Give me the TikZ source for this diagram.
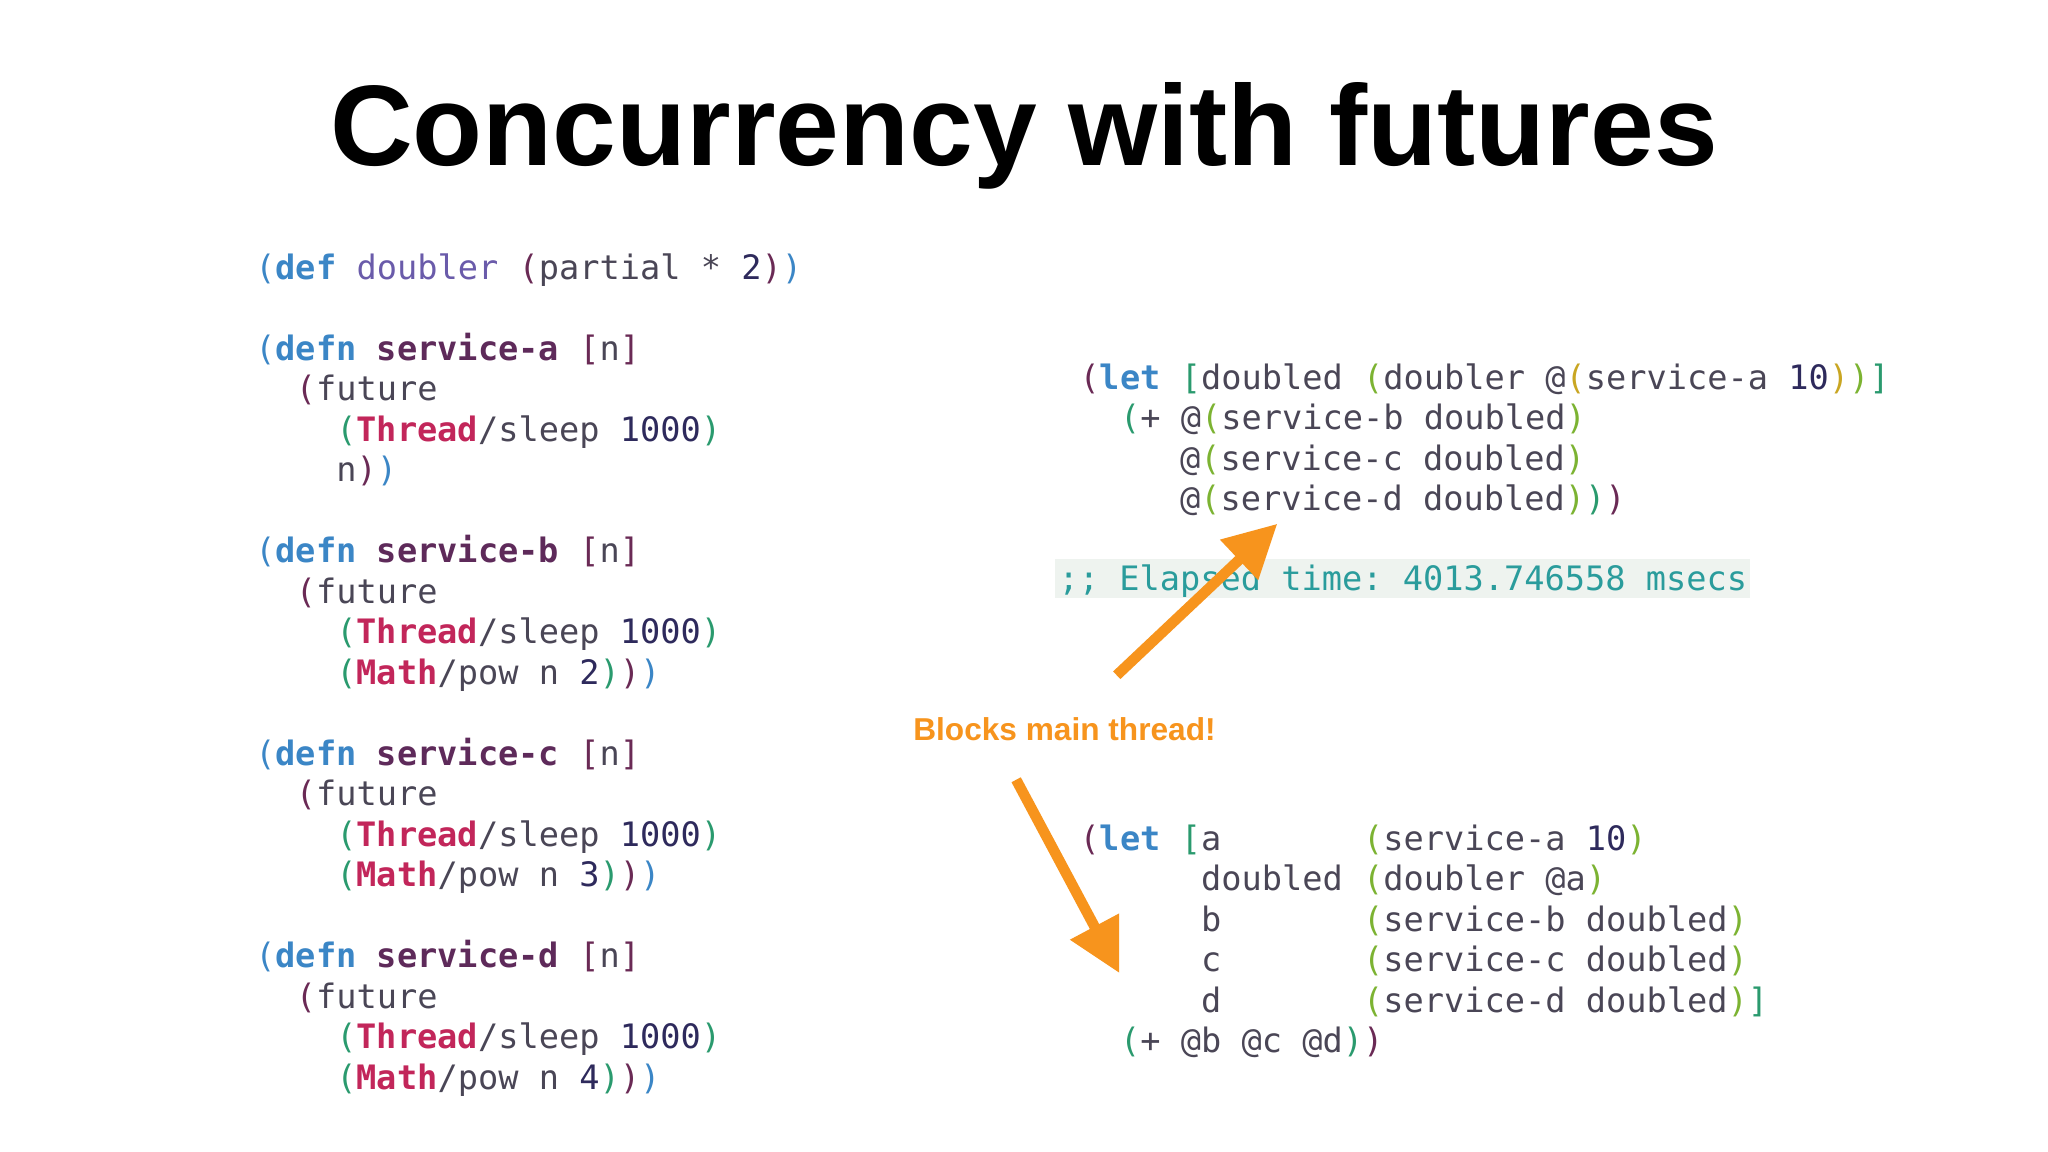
\documentclass[tikz,border=0pt]{standalone}
\usepackage{fontspec}
\setmainfont{Liberation Sans}
\setmonofont{DejaVu Sans Mono}
\usetikzlibrary{arrows.meta}
\definecolor{pb}{HTML}{3B86C6}
\definecolor{pp}{HTML}{6A2A55}
\definecolor{pg}{HTML}{2A9A6E}
\definecolor{pl}{HTML}{7CB332}
\definecolor{py}{HTML}{C9A622}
\definecolor{tx}{HTML}{4A4656}
\definecolor{nm}{HTML}{2E2A5C}
\definecolor{db}{HTML}{6A5BAA}
\definecolor{fnc}{HTML}{5E2A5A}
\definecolor{cls}{HTML}{C2265A}
\definecolor{cm}{HTML}{2A9C9C}
\definecolor{cmbg}{HTML}{EEF3EF}
\definecolor{org}{HTML}{F7941D}
\newcommand\C[2]{{\color{#1}#2}}
\newcommand\K[1]{{\bfseries\color{pb}#1}}
\newcommand\F[1]{{\bfseries\color{fnc}#1}}
\newcommand\J[1]{{\bfseries\color{cls}#1}}
\newcommand\N[1]{{\color{nm}#1}}
\begin{document}
\begin{tikzpicture}[x=0.013061cm,y=-0.013061cm,
  code/.style={anchor=base west,inner sep=0,text=tx,font=\ttfamily\fontsize{9.57}{11}\selectfont},
  arr/.style={draw=org,line width=3pt,-{Triangle[length=15pt,width=15pt]}}]
\useasboundingbox (0,0) rectangle (1568,882);
\fill[white] (0,0) rectangle (1568,882);
\node[anchor=center,inner sep=0,font=\bfseries\fontsize{32.6}{38}\selectfont] (title) at (784,104) {Concurrency with futures};
% left block
\node[code] (l1) at (195,214) {\C{pb}{(}\K{def} \C{db}{doubler} \C{pp}{(}partial * \N{2}\C{pp}{)}\C{pb}{)}};
\node[code] (a1) at (195,276) {\C{pb}{(}\K{defn} \F{service-a} \C{pp}{[}n\C{pp}{]}};
\node[code] (a2) at (226,307) {\C{pp}{(}future};
\node[code] (a3) at (257,338) {\C{pg}{(}\J{Thread}/sleep \N{1000}\C{pg}{)}};
\node[code] (a4) at (257,369) {n\C{pp}{)}\C{pb}{)}};
\node[code] (b1) at (195,431) {\C{pb}{(}\K{defn} \F{service-b} \C{pp}{[}n\C{pp}{]}};
\node[code] (b2) at (226,462) {\C{pp}{(}future};
\node[code] (b3) at (257,493) {\C{pg}{(}\J{Thread}/sleep \N{1000}\C{pg}{)}};
\node[code] (b4) at (257,524) {\C{pg}{(}\J{Math}/pow n \N{2}\C{pg}{)}\C{pp}{)}\C{pb}{)}};
\node[code] (c1) at (195,586) {\C{pb}{(}\K{defn} \F{service-c} \C{pp}{[}n\C{pp}{]}};
\node[code] (c2) at (226,617) {\C{pp}{(}future};
\node[code] (c3) at (257,648) {\C{pg}{(}\J{Thread}/sleep \N{1000}\C{pg}{)}};
\node[code] (c4) at (257,679) {\C{pg}{(}\J{Math}/pow n \N{3}\C{pg}{)}\C{pp}{)}\C{pb}{)}};
\node[code] (d1) at (195,741) {\C{pb}{(}\K{defn} \F{service-d} \C{pp}{[}n\C{pp}{]}};
\node[code] (d2) at (226,772) {\C{pp}{(}future};
\node[code] (d3) at (257,803) {\C{pg}{(}\J{Thread}/sleep \N{1000}\C{pg}{)}};
\node[code] (d4) at (257,834) {\C{pg}{(}\J{Math}/pow n \N{4}\C{pg}{)}\C{pp}{)}\C{pb}{)}};
% right block 1
\node[code] (r1) at (826,298) {\C{pp}{(}\K{let} \C{pg}{[}doubled \C{pl}{(}doubler @\C{py}{(}service-a \N{10}\C{py}{)}\C{pl}{)}\C{pg}{]}};
\node[code] (r2) at (857,329) {\C{pg}{(}+ @\C{pl}{(}service-b doubled\C{pl}{)}};
\node[code] (r3) at (903,360) {@\C{pl}{(}service-c doubled\C{pl}{)}};
\node[code] (r4) at (903,391) {@\C{pl}{(}service-d doubled\C{pl}{)}\C{pg}{)}\C{pp}{)}};
\fill[cmbg] (808,428) rectangle (1340,458);
\node[code,text=cm] (el) at (810,452) {;; Elapsed time: 4013.746558 msecs};
% right block 2
\node[code] (s1) at (826,651) {\C{pp}{(}\K{let} \C{pg}{[}a~~~~~~~\C{pl}{(}service-a \N{10}\C{pl}{)}};
\node[code] (s2) at (919,682) {doubled \C{pl}{(}doubler @a\C{pl}{)}};
\node[code] (s3) at (919,713) {b~~~~~~~\C{pl}{(}service-b doubled\C{pl}{)}};
\node[code] (s4) at (919,744) {c~~~~~~~\C{pl}{(}service-c doubled\C{pl}{)}};
\node[code] (s5) at (919,775) {d~~~~~~~\C{pl}{(}service-d doubled\C{pl}{)}\C{pg}{]}};
\node[code] (s6) at (857,806) {\C{pg}{(}+ @b @c @d\C{pg}{)}\C{pp}{)}};
% label and arrows
\node[inner sep=0,text=org,font=\bfseries\fontsize{9}{10}\selectfont] (lbl) at (815,558) {Blocks main thread!};
\coordinate (a1s) at (855,517);
\coordinate (a1e) at (978,401);
\coordinate (a2s) at (778,597);
\coordinate (a2e) at (857,745);
\draw[arr] (a1s) -- (a1e);
\draw[arr] (a2s) -- (a2e);
\end{tikzpicture}
\end{document}
